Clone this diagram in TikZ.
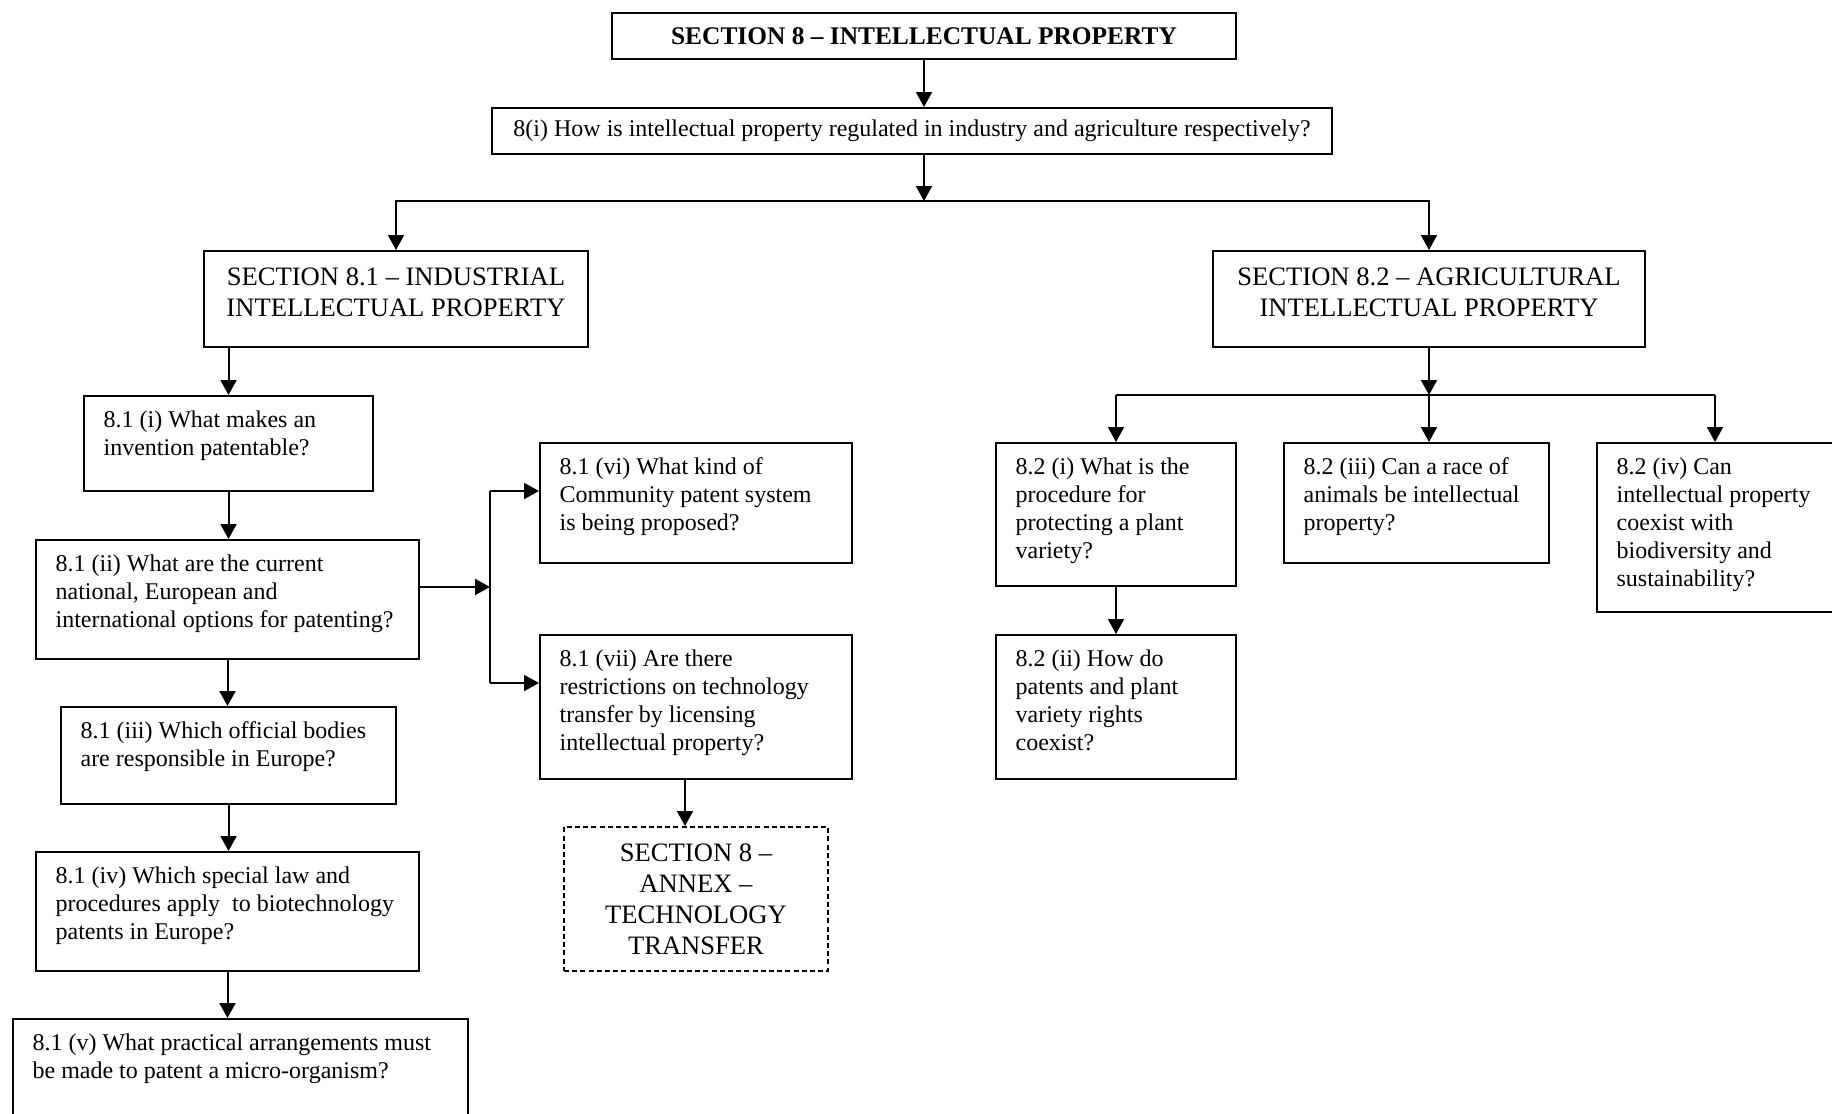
\documentclass[tikz,border=0pt]{standalone}
\usepackage{fontspec}
\setmainfont{Liberation Serif}
\usetikzlibrary{arrows.meta}
\tikzset{
    pregunta/.style={draw, line width=1pt, anchor=north west, inner xsep=9.8pt, inner ysep=5.8pt, font=\fontsize{12}{14}\selectfont},
    seccion/.style={draw, line width=1pt, anchor=north west, inner sep=0pt, align=center, font=\fontsize{13.3}{15.5}\selectfont},
    flecha/.style={line width=1pt, -{Triangle[length=7.5pt, width=8pt]}},
    linea/.style={line width=1pt},
}
\newcommand{\caja}[3]{\parbox[t][#2][t]{#1}{\raggedright\strut #3}}
\newcommand{\bajo}{\rule[-6.5pt]{0pt}{1pt}}

\begin{document}
\begin{tikzpicture}[x=0.5pt, y=-0.5pt]
\clip (0,0) rectangle (1832,1114);
% Top
\node[seccion, minimum width=312pt, minimum height=23pt, font=\fontsize{12.7}{15}\selectfont\bfseries] (sec8) at (611,12) {SECTION 8 – INTELLECTUAL PROPERTY};
\node[seccion, minimum width=420pt, minimum height=23pt, font=\fontsize{12}{14}\selectfont] (q8i) at (491,107) {8(i) How is intellectual property regulated in industry and agriculture respectively?};
\node[seccion, minimum width=192pt, minimum height=48pt] (sec81) at (203,250) {SECTION 8.1 – INDUSTRIAL\\INTELLECTUAL PROPERTY\bajo};
\node[seccion, minimum width=216pt, minimum height=48pt] (sec82) at (1212,250) {SECTION 8.2 – AGRICULTURAL\\INTELLECTUAL PROPERTY\bajo};
\draw[flecha] (sec8.south) -- (sec8.south |- q8i.north);
\coordinate (nivel) at (0,201);
\coordinate (reparto) at (sec8.south |- nivel);
\draw[flecha] (q8i.south -| sec8.south) -- (reparto);
\draw[flecha] (reparto) -| (sec81.north);
\draw[flecha] (reparto) -| (sec82.north);
% 8.1: industrial
\node[pregunta] (q81i) at (83,395) {\caja{124.9pt}{35.9pt}{8.1 (i) What makes an\\invention patentable?}};
\node[pregunta] (q81ii) at (35,539) {\caja{171.9pt}{47.9pt}{8.1 (ii) What are the current\\national, European and\\international options for patenting?}};
\node[pregunta] (q81iii) at (60,706) {\caja{147.9pt}{36.9pt}{8.1 (iii) Which official bodies\\are responsible in Europe?}};
\node[pregunta] (q81iv) at (35,851) {\caja{171.9pt}{47.9pt}{8.1 (iv) Which special law and\\procedures apply~ to biotechnology\\patents in Europe?}};
\node[pregunta] (q81v) at (12,1018) {\caja{207.9pt}{79.4pt}{8.1 (v) What practical arrangements must\\be made to patent a micro-organism?}};
\node[pregunta] (q81vi) at (539,442) {\caja{136.4pt}{48.4pt}{8.1 (vi) What kind of\\Community patent system\\is being proposed?}};
\node[pregunta] (q81vii) at (539,634) {\caja{136.4pt}{60.4pt}{8.1 (vii) Are there\\restrictions on technology\\transfer by licensing\\intellectual property?}};
\node[seccion, dash pattern=on 2.5pt off 1.6pt, minimum width=132pt, minimum height=72pt] (annex) at (563,826) {SECTION 8 –\\ANNEX –\\TECHNOLOGY\\TRANSFER};
\draw[flecha] (sec81.south -| q81i.north) -- (q81i.north);
\draw[flecha] (q81i.south) -- (q81i.south |- q81ii.north);
\draw[flecha] (q81ii.south) -- (q81ii.south |- q81iii.north);
\draw[flecha] (q81iii.south) -- (q81iii.south |- q81iv.north);
\draw[flecha] (q81iv.south) -- (q81iv.south |- q81v.north);
\coordinate (rama) at (490,587);
\coordinate (ramaA) at (490,491);
\coordinate (ramaB) at (490,683);
\draw[flecha] (q81ii.east |- rama) -- (rama);
\draw[linea] (ramaA) -- (ramaB);
\draw[flecha] (ramaA) -- (ramaA -| q81vi.west);
\draw[flecha] (ramaB) -- (ramaB -| q81vii.west);
\draw[flecha] ([xshift=-5.5pt]q81vii.south) -- ([xshift=-5.5pt]q81vii.south |- annex.north);
% 8.2: agricultural
\node[pregunta] (q82i) at (995,442) {\caja{100.4pt}{59.9pt}{8.2 (i) What is the\\procedure for\\protecting a plant\\variety?}};
\node[pregunta] (q82ii) at (995,634) {\caja{100.4pt}{60.4pt}{8.2 (ii) How do\\patents and plant\\variety rights\\coexist?}};
\node[pregunta] (q82iii) at (1283,442) {\caja{112.9pt}{48.4pt}{8.2 (iii) Can a race of\\animals be intellectual\\property?}};
\node[pregunta] (q82iv) at (1596,442) {\caja{132.4pt}{72.9pt}{8.2 (iv) Can\\intellectual property\\coexist with\\biodiversity and\\sustainability?}};
\coordinate (ramaC) at (1116,395);
\coordinate (ramaD) at (1715,395);
\coordinate (ramaE) at (sec82.south |- ramaC);
\draw[linea] (ramaC) -- (ramaD);
\draw[flecha] (sec82.south) -- (ramaE);
\draw[flecha] (ramaE) -- (ramaE |- q82iii.north);
\draw[flecha] (ramaC) -- (ramaC |- q82i.north);
\draw[flecha] (ramaD) -- (ramaD |- q82iv.north);
\draw[flecha] (q82i.south) -- (q82i.south |- q82ii.north);
\end{tikzpicture}
\end{document}
